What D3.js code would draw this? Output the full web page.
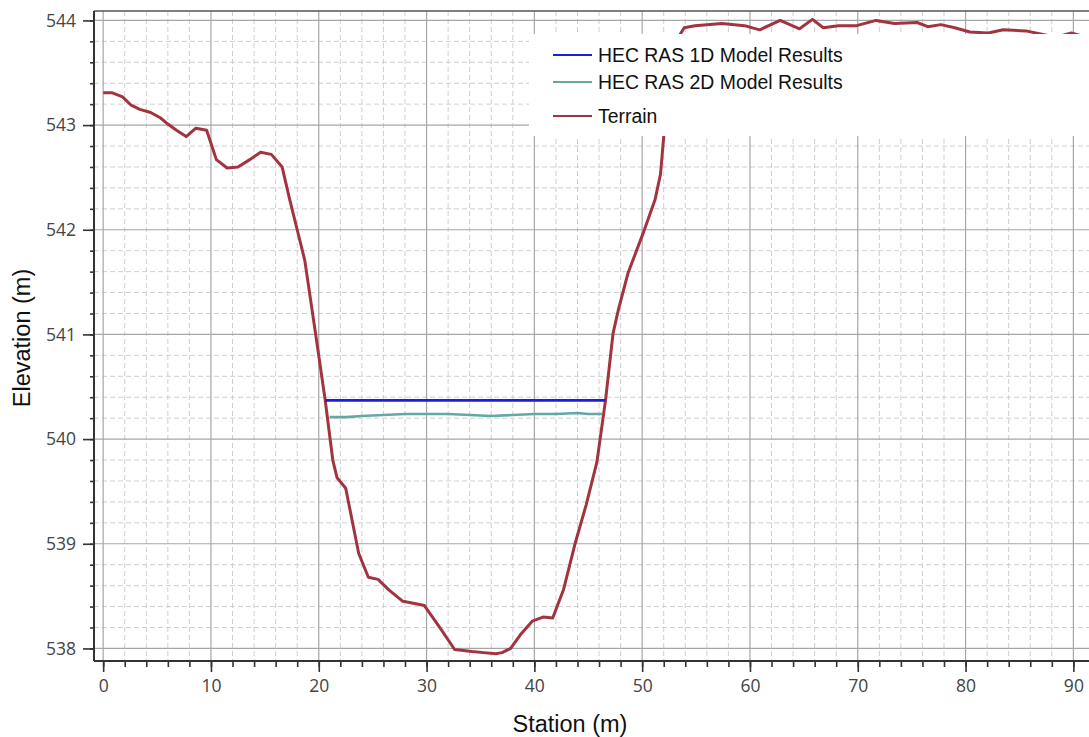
<!DOCTYPE html>
<html>
  <head>
    <meta charset="utf-8">
    <title>Cross section - water surface</title>
    <script src="https://d3js.org/d3.v7.min.js"></script>
    <style>
      body { margin: 0; background: #fff; }
      .tick text { font-family: "Open Sans", sans-serif; font-size: 17.5px; fill: #444; }
      .title { font-family: "Liberation Sans", Arial, sans-serif; font-size: 23.5px; fill: #111; }
      .legend text { font-family: "Liberation Sans", Arial, sans-serif; font-size: 19.4px; fill: #111; }
    </style>
  </head>
  <body>
    <svg id="svg" width="1089" height="737"></svg>
    <script>
      // terrain profile (station m, elevation m)
      var terrainStation = [0, 0.8, 1.8, 2.6, 3.4, 4.4, 5.3, 6.0, 6.8, 7.7, 8.6, 9.6, 10.5, 11.5, 12.5, 13.6,
        14.6, 15.6, 16.6, 17.3, 18.0, 18.7, 19.7, 20.6, 21.3, 21.7, 22.5, 23.7, 24.6, 25.5, 26.5, 27.8, 28.9,
        29.8, 31.3, 32.6, 34.2, 35.3, 36.4, 37.0, 37.8, 38.7, 39.8, 40.8, 41.7, 42.7, 43.8, 44.8, 45.8, 46.6,
        47.3, 47.8, 48.7, 50.1, 51.2, 51.7, 52.0, 52.4, 52.9, 53.3, 53.9, 54.9, 57.4, 59.5, 60.9, 62.8, 64.6,
        65.8, 66.8, 68.2, 69.9, 71.7, 73.4, 75.5, 76.5, 77.7, 79.0, 80.4, 82.1, 83.5, 85.6, 87.4, 88.4, 89.8, 91.2];
      var terrainElev = [543.31, 543.31, 543.27, 543.19, 543.15, 543.12, 543.07, 543.01, 542.95, 542.89, 542.97,
        542.95, 542.67, 542.59, 542.60, 542.67, 542.74, 542.72, 542.60, 542.29, 542.00, 541.71, 541.01, 540.37,
        539.80, 539.63, 539.53, 538.91, 538.68, 538.66, 538.56, 538.45, 538.43, 538.41, 538.19, 537.99, 537.97,
        537.96, 537.95, 537.96, 538.00, 538.13, 538.26, 538.30, 538.29, 538.56, 539.01, 539.37, 539.78, 540.37,
        541.01, 541.24, 541.59, 541.97, 542.29, 542.53, 542.89, 543.30, 543.65, 543.83, 543.93, 543.95, 543.97,
        543.95, 543.91, 544.00, 543.92, 544.01, 543.93, 543.95, 543.95, 544.00, 543.97, 543.98, 543.94, 543.96,
        543.93, 543.89, 543.88, 543.91, 543.90, 543.86, 543.84, 543.88, 543.84];
      // HEC RAS 1D water surface
      var ras1dStation = [20.6, 46.6];
      var ras1dElev = [540.37, 540.37];
      // HEC RAS 2D water surface
      var ras2dStation = [21.0, 22.5, 24, 26, 28, 30, 32, 34, 36, 38, 40, 42, 44, 45, 46.3];
      var ras2dElev = [540.21, 540.21, 540.22, 540.23, 540.24, 540.24, 540.24, 540.23, 540.22, 540.23, 540.24,
        540.24, 540.25, 540.24, 540.24];
      var seriesNames = ["HEC RAS 1D Model Results", "HEC RAS 2D Model Results", "Terrain"];
      var seriesColours = ["#1c1ce6", "#64a8a6", "#a2343f"];
      var xTicks = d3.range(0, 91, 10);
      var yTicks = d3.range(538, 544.01, 1);

      var svg = d3.select("#svg");
      var plotL = 94, plotT = 11, plotR = 1089, plotB = 661;

      var x = d3.scaleLinear().domain([-0.85, 91.45]).range([plotL, plotR]);
      var y = d3.scaleLinear().domain([537.88, 544.09]).range([plotB, plotT]);

      svg.append("clipPath").attr("id", "clip")
        .append("rect").attr("x", plotL).attr("y", plotT).attr("width", plotR - plotL).attr("height", plotB - plotT);

      // grid
      var grid = svg.append("g");
      var xMinorAll = d3.range(0, 92, 2);
      var yMinorAll = d3.range(5380, 5441, 2).map(function(d) { return d / 10; });
      var xMinor = xMinorAll.filter(function(d) { return d % 10 !== 0; });
      var yMinor = yMinorAll.filter(function(d) { return Math.abs(d - Math.round(d)) > 0.01; });
      grid.selectAll(".xm").data(xMinor).enter().append("line")
        .attr("x1", x).attr("x2", x).attr("y1", plotT).attr("y2", plotB)
        .attr("stroke", "#cfcfcf").attr("stroke-dasharray", "5,3");
      grid.selectAll(".ym").data(yMinor).enter().append("line")
        .attr("y1", y).attr("y2", y).attr("x1", plotL).attr("x2", plotR)
        .attr("stroke", "#cfcfcf").attr("stroke-dasharray", "5,3");
      grid.selectAll(".xM").data(xTicks).enter().append("line")
        .attr("x1", x).attr("x2", x).attr("y1", plotT).attr("y2", plotB)
        .attr("stroke", "#a6a6a6").attr("stroke-width", 1.2);
      grid.selectAll(".yM").data(yTicks).enter().append("line")
        .attr("y1", y).attr("y2", y).attr("x1", plotL).attr("x2", plotR)
        .attr("stroke", "#a6a6a6").attr("stroke-width", 1.2);

      // series
      var line = d3.line().x(function(d) { return x(d[0]); }).y(function(d) { return y(d[1]); });
      var data = [
        d3.zip(ras1dStation, ras1dElev),
        d3.zip(ras2dStation, ras2dElev),
        d3.zip(terrainStation, terrainElev)
      ];
      var widths = [2.8, 2.6, 3];
      svg.append("g").attr("clip-path", "url(#clip)")
        .selectAll("path").data([2, 1, 0]).enter().append("path")
          .attr("d", function(i) { return line(data[i]); })
          .attr("fill", "none")
          .attr("stroke", function(i) { return seriesColours[i]; })
          .attr("stroke-width", function(i) { return widths[i]; })
          .attr("stroke-linejoin", "round");

      // frame
      svg.append("line").attr("x1", plotL).attr("x2", plotR).attr("y1", plotT).attr("y2", plotT)
        .attr("stroke", "#555").attr("stroke-width", 1.5);

      // axes
      var xAxis = svg.append("g").attr("transform", "translate(0," + plotB + ")");
      xAxis.call(d3.axisBottom(x).tickValues(xMinorAll).tickSize(6).tickFormat("").tickSizeOuter(0));
      xAxis.append("g").call(d3.axisBottom(x).tickValues(xTicks).tickSize(11).tickPadding(8).tickSizeOuter(0));
      var yAxis = svg.append("g").attr("transform", "translate(" + plotL + ",0)");
      yAxis.call(d3.axisLeft(y).tickValues(yMinorAll).tickSize(4).tickFormat("").tickSizeOuter(0));
      yAxis.append("g").call(d3.axisLeft(y).tickValues(yTicks).tickSize(11).tickPadding(7).tickSizeOuter(0).tickFormat(d3.format("d")));
      svg.selectAll(".domain").attr("stroke", "#333").attr("stroke-width", 2);
      svg.selectAll(".tick line").attr("stroke", "#333").attr("stroke-width", 1.6);
      xAxis.selectAll(".domain").attr("d", "M" + plotL + ",0H" + plotR);
      yAxis.selectAll(".domain").attr("d", "M0," + plotT + "V" + plotB);

      // titles
      svg.append("text").attr("class", "title").attr("x", 570).attr("y", 732)
        .attr("text-anchor", "middle").text("Station (m)");
      svg.append("text").attr("class", "title")
        .attr("transform", "translate(30,338) rotate(-90)")
        .attr("text-anchor", "middle").text("Elevation (m)");

      // legend
      var legend = svg.append("g").attr("class", "legend");
      legend.append("rect").attr("x", 529).attr("y", 34).attr("width", plotR - 529).attr("height", 102).attr("fill", "#fff");
      var rowY = [55, 82, 116];
      var rows = legend.selectAll(".row").data(seriesNames).enter().append("g")
        .attr("transform", function(d, i) { return "translate(553," + rowY[i] + ")"; });
      rows.append("line").attr("x1", 0).attr("x2", 39)
        .attr("stroke", function(d, i) { return seriesColours[i]; }).attr("stroke-width", 2);
      rows.append("text").attr("x", 45).attr("dy", "0.36em").text(function(d) { return d; });
    </script>
  </body>
</html>
